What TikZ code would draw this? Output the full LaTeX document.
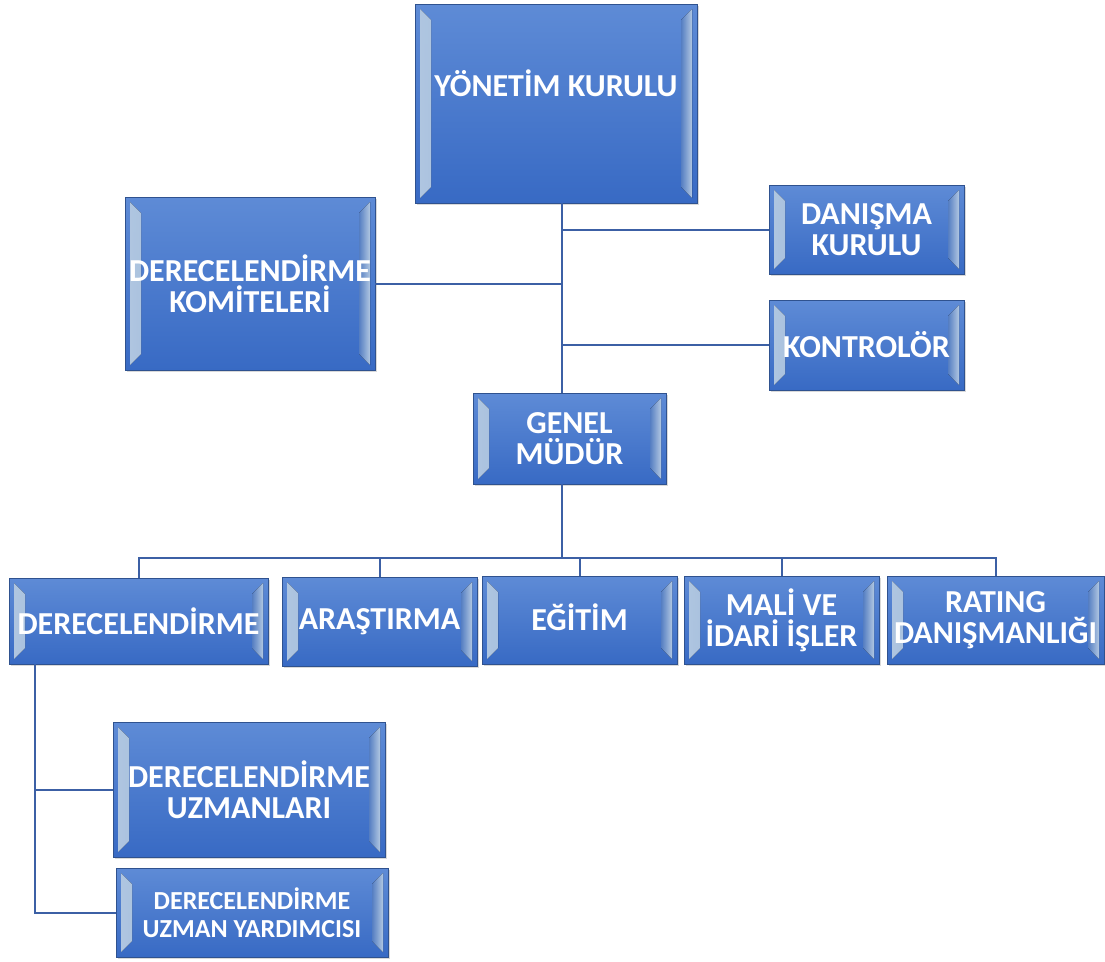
\documentclass[tikz,border=0pt]{standalone}
\usepackage{fontspec}
\setmainfont{Carlito}
\usetikzlibrary{positioning,calc,shadows}

\definecolor{boxtop}{RGB}{94,139,214}
\definecolor{boxbot}{RGB}{56,106,196}
\definecolor{boxedge}{RGB}{47,82,143}
\definecolor{bevlight}{RGB}{196,220,248}
\definecolor{linkblue}{RGB}{60,96,165}

\begin{document}
\begin{tikzpicture}[x=1pt,y=-1pt,
	orgbox/.style = {rectangle, draw=boxedge, line width=0.8pt,
		top color=boxtop, bottom color=boxbot, text=white,
		font=\fontsize{32}{31}\selectfont\bfseries, align=center, inner sep=0pt,
		drop shadow={opacity=0.3, shadow xshift=2pt, shadow yshift=-2pt},
		path picture={
			\fill[left color=bevlight, right color=boxtop, fill opacity=0.9]
				($(path picture bounding box.north west)+(5pt,-5pt)$) -- ++(11pt,-11pt)
				-- ($(path picture bounding box.south west)+(16pt,16pt)$) -- ++(-11pt,-11pt) -- cycle;
			\fill[right color=bevlight, left color=boxtop, fill opacity=0.9]
				($(path picture bounding box.north east)+(-5pt,-5pt)$) -- ++(-11pt,-11pt)
				-- ($(path picture bounding box.south east)+(-16pt,16pt)$) -- ++(11pt,-11pt) -- cycle;
		}},
	link/.style = {draw=linkblue, line width=2pt}]

	\useasboundingbox (0,0) rectangle (1105,961);

	\node[orgbox, minimum width=282, minimum height=199, text depth=40pt] (yk) at (556,103.5) {YÖNETİM KURULU};
	\node[orgbox, minimum width=250, minimum height=173] (komite) at (250,283.5) {DERECELENDİRME\\KOMİTELERİ};
	\node[orgbox, minimum width=195, minimum height=89] (danisma) at (866.5,229.5) {DANIŞMA\\KURULU};
	\node[orgbox, minimum width=195, minimum height=90] (kontrolor) at (866.5,345) {KONTROLÖR};
	\node[orgbox, minimum width=193, minimum height=91] (gm) at (569.5,438.5) {GENEL\\MÜDÜR};

	\node[orgbox, minimum width=259, minimum height=86] (der) at (138.5,621) {DERECELENDİRME};
	\node[orgbox, minimum width=195, minimum height=89] (arastirma) at (379.5,621.5) {ARAŞTIRMA};
	\node[orgbox, minimum width=195, minimum height=88, text depth=6pt] (egitim) at (579.5,620) {EĞİTİM};
	\node[orgbox, minimum width=195, minimum height=88] (mali) at (781.5,620) {MALİ VE\\İDARİ İŞLER};
	\node[orgbox, minimum width=217, minimum height=88] (rating) at (995.5,620) {RATING\\DANIŞMANLIĞI};

	\node[orgbox, minimum width=272, minimum height=135] (uzman) at (249,789.5) {DERECELENDİRME\\UZMANLARI};
	\node[orgbox, minimum width=272, minimum height=89, font=\fontsize{26}{28}\selectfont\bfseries] (yardimci) at (252,912.5) {DERECELENDİRME\\UZMAN YARDIMCISI};

	\coordinate (trunk) at (562,0);
	\coordinate (bus) at (562,558);
	\coordinate (side) at (35,0);

	\draw[link] (yk.south -| trunk) -- (gm.north -| trunk);
	\draw[link] (trunk |- danisma.west) -- (danisma.west);
	\draw[link] (komite.east) -- (komite.east -| trunk);
	\draw[link] (trunk |- kontrolor.west) -- (kontrolor.west);

	\draw[link] (gm.south -| bus) -- (bus);
	\foreach \n in {der,arastirma,egitim,mali,rating}
		\draw[link] (bus) -| (\n.north);

	\draw[link] (side |- der.south) |- (uzman.west);
	\draw[link] (side |- der.south) |- (yardimci.west);
\end{tikzpicture}
\end{document}
